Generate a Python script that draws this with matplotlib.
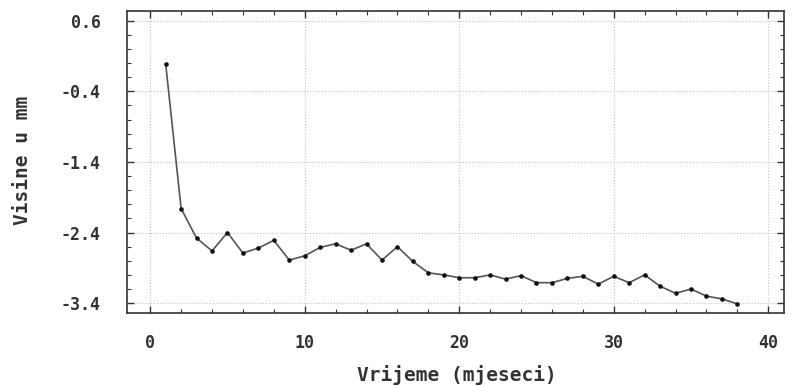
import matplotlib
matplotlib.use("Agg")
import matplotlib.pyplot as plt
from matplotlib.ticker import MultipleLocator

# mjeseci 1..38, visine ocitane sa slike
months = list(range(1, 39))
heights = [-0.01, -2.06, -2.48, -2.66, -2.40, -2.69, -2.62, -2.51, -2.79, -2.73,
           -2.61, -2.56, -2.65, -2.56, -2.79, -2.60, -2.81, -2.97, -3.00, -3.04,
           -3.04, -3.00, -3.06, -3.01, -3.11, -3.11, -3.05, -3.02, -3.13, -3.02,
           -3.11, -3.00, -3.16, -3.26, -3.20, -3.30, -3.34, -3.41]
x_ticks = [0, 10, 20, 30, 40]
y_ticks = [0.6, -0.4, -1.4, -2.4, -3.4]

FONT = "DejaVu Sans Mono"
INK = "#333333"

fig = plt.figure(figsize=(7.94, 3.86), dpi=100)
ax = fig.add_axes([0.16, 0.189, 0.827, 0.783])

ax.plot(months, heights, color="#555555", lw=1.2, marker="o", ms=2.3,
        mfc="#111111", mec="#111111")

ax.set_xlim(-1.5, 41)
ax.set_ylim(-3.54, 0.74)
ax.set_xticks(x_ticks)
ax.set_yticks(y_ticks)
ax.set_xticklabels([f"{v:d}" for v in x_ticks])
ax.set_yticklabels([f"{v:.1f}" for v in y_ticks])
ax.xaxis.set_minor_locator(MultipleLocator(2))
ax.yaxis.set_minor_locator(MultipleLocator(0.2))

ax.tick_params(which="both", direction="in", top=True, right=True, color=INK)
ax.tick_params(which="major", length=5, width=1.0)
ax.tick_params(which="minor", length=3, width=0.8)
ax.tick_params(axis="y", pad=19)
ax.tick_params(axis="x", pad=15)
for lab in ax.get_xticklabels() + ax.get_yticklabels():
    lab.set_fontfamily(FONT)
    lab.set_fontweight("bold")
    lab.set_fontsize(12)
    lab.set_color(INK)

for sp in ax.spines.values():
    sp.set_color(INK)
    sp.set_linewidth(1.2)

ax.grid(True, which="major", ls=":", lw=0.8, color="#c4c4c4")

fig.text(0.576, 0.028, "Vrijeme (mjeseci)", ha="center", va="center",
         family=FONT, fontweight="bold", fontsize=14, color=INK)
fig.text(0.028, 0.585, "Visine u mm", ha="center", va="center", rotation=90,
         family=FONT, fontweight="bold", fontsize=14, color=INK)

fig.savefig("out.png", dpi=100)
